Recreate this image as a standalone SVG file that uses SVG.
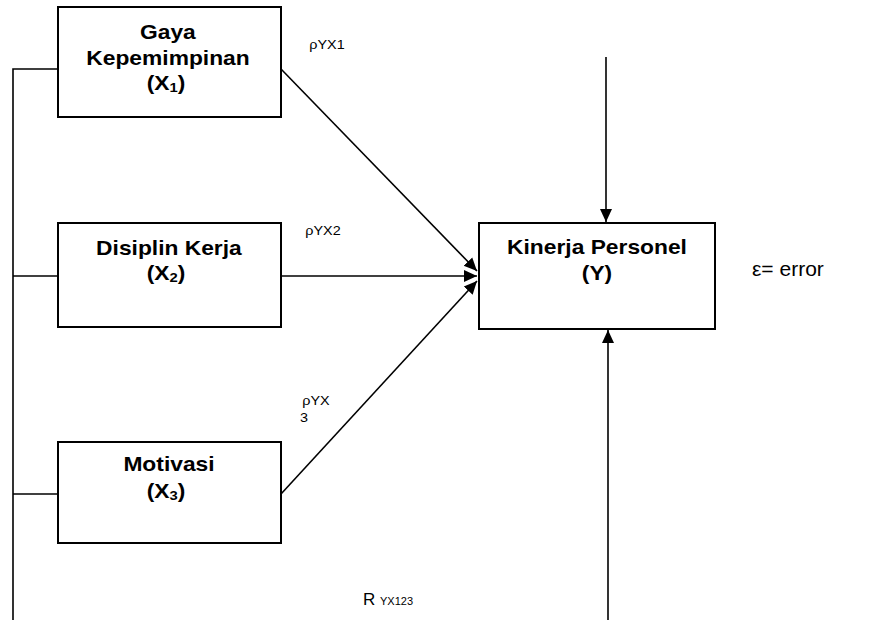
<svg xmlns="http://www.w3.org/2000/svg" width="888" height="620" viewBox="0 0 888 620">
<style>
  .box { fill: #fff; stroke: #000; stroke-width: 2; }
  .ln { fill: none; stroke: #000; stroke-width: 1.6; }
  .bt { font-family: "Liberation Sans", Arial, sans-serif; font-weight: bold; font-size: 20px; text-anchor: middle; fill: #000; transform: scaleX(1.14); transform-box: fill-box; transform-origin: center; }
  .sub { font-size: 13px; }
  .lb { font-family: "Liberation Sans", Arial, sans-serif; font-size: 12px; text-anchor: middle; fill: #000; transform: scaleX(1.2); transform-box: fill-box; transform-origin: center; }
  .pl { font-family: "Liberation Sans", Arial, sans-serif; fill: #000; }
</style>
<defs>
  <marker id="ah" markerUnits="userSpaceOnUse" markerWidth="14" markerHeight="14" viewBox="0 0 14 14" refX="13" refY="7" orient="auto">
    <path d="M0,1 L13,7 L0,13 Z" fill="#000"/>
  </marker>
</defs>
<g id="connectors">
  <polyline class="ln" points="58,69 13,69 13,620"/>
  <line class="ln" x1="13" y1="276" x2="58" y2="276"/>
  <line class="ln" x1="13" y1="494" x2="58" y2="494"/>
  <line class="ln" x1="281" y1="69" x2="477" y2="271" marker-end="url(#ah)"/>
  <line class="ln" x1="281" y1="276" x2="477" y2="276" marker-end="url(#ah)"/>
  <line class="ln" x1="281" y1="494" x2="477" y2="281" marker-end="url(#ah)"/>
  <line class="ln" x1="606" y1="57" x2="606" y2="222" marker-end="url(#ah)"/>
  <line class="ln" x1="608" y1="620" x2="608" y2="330" marker-end="url(#ah)"/>
</g>
<g id="x1">
  <rect class="box" x="58" y="7" width="223" height="110"/>
  <text class="bt" x="168" y="39">Gaya</text>
  <text class="bt" x="168" y="65">Kepemimpinan</text>
  <text class="bt" x="166" y="90">(X<tspan class="sub" dy="2">1</tspan><tspan dy="-2">)</tspan></text>
</g>
<g id="x2">
  <rect class="box" x="58" y="223" width="223" height="104"/>
  <text class="bt" x="169" y="255">Disiplin Kerja</text>
  <text class="bt" x="166" y="280">(X<tspan class="sub" dy="2">2</tspan><tspan dy="-2">)</tspan></text>
</g>
<g id="x3">
  <rect class="box" x="58" y="442" width="223" height="101"/>
  <text class="bt" x="169" y="471">Motivasi</text>
  <text class="bt" x="166" y="498">(X<tspan class="sub" dy="2">3</tspan><tspan dy="-2">)</tspan></text>
</g>
<g id="y">
  <rect class="box" x="479" y="223" width="236" height="106"/>
  <text class="bt" x="597" y="254">Kinerja Personel</text>
  <text class="bt" x="597" y="280">(Y)</text>
</g>
<g id="labels">
  <text class="lb" x="327" y="49">ρYX1</text>
  <text class="lb" x="323" y="235">ρYX2</text>
  <text class="lb" x="316" y="405">ρYX</text>
  <text class="lb" x="304" y="422">3</text>
  <text class="pl" x="363" y="605" font-size="17">R <tspan font-size="11">YX123</tspan></text>
  <text class="pl" x="752" y="276" font-size="21">ε= error</text>
</g>
</svg>
